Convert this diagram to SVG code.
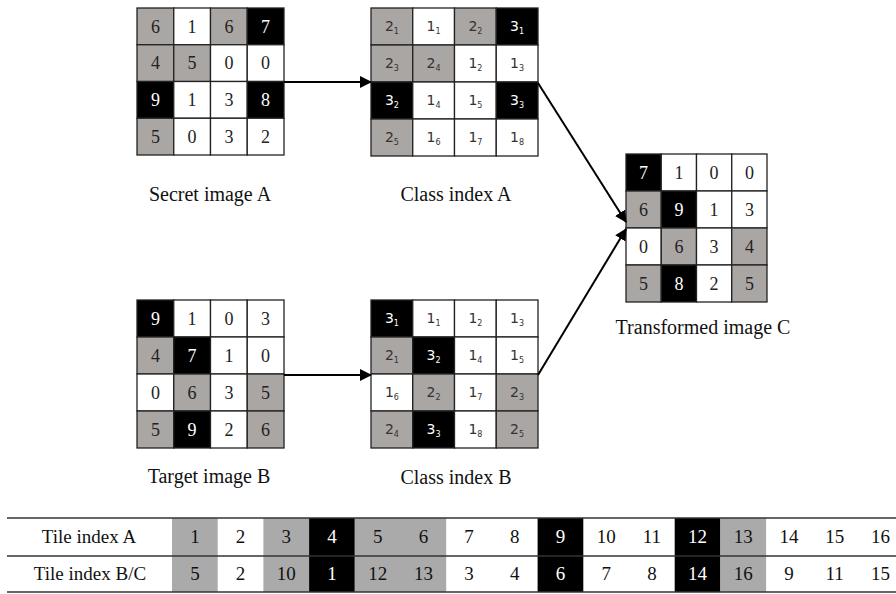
<svg xmlns="http://www.w3.org/2000/svg" width="896" height="594" viewBox="0 0 896 594">
<defs>
<marker id="ah" viewBox="0 0 12 12" refX="11" refY="6" markerWidth="12" markerHeight="12" markerUnits="userSpaceOnUse" orient="auto">
<path d="M0,0 L12,6 L0,12 Z" fill="#000"/>
</marker>
</defs>
<style>
rect.w{fill:#fff;stroke:#222;stroke-width:1.3}
rect.g{fill:#aaa6a4;stroke:#222;stroke-width:1.3}
rect.b{fill:#000;stroke:#222;stroke-width:1.3}
.n{font-family:"Liberation Serif","Times New Roman",serif;font-size:18px;text-anchor:middle;fill:#222}
.nw{font-family:"Liberation Serif","Times New Roman",serif;font-size:18px;text-anchor:middle;fill:#fff}
.c{font-family:"DejaVu Sans","Liberation Sans",sans-serif;font-size:14px;text-anchor:middle;fill:#333}
.cw{font-family:"DejaVu Sans","Liberation Sans",sans-serif;font-size:14px;text-anchor:middle;fill:#fff}
.s{font-size:8px}
.lbl{font-family:"Liberation Serif","Times New Roman",serif;font-size:20px;text-anchor:middle;fill:#111}
.tl{font-family:"Liberation Serif","Times New Roman",serif;font-size:19px;text-anchor:middle;fill:#111}
.tw{font-family:"Liberation Serif","Times New Roman",serif;font-size:19px;text-anchor:middle;fill:#fff}
.tg{fill:#aaaaaa}
.tb{fill:#000}
.conn line{stroke:#000;stroke-width:2;marker-end:url(#ah)}
.rule{stroke:#333;stroke-width:1.5}
</style>

<g id="secretA" transform="translate(137,8)">
<rect class="g" x="0" y="0" width="36.75" height="36.75"/><rect class="w" x="36.75" y="0" width="36.75" height="36.75"/><rect class="g" x="73.5" y="0" width="36.75" height="36.75"/><rect class="b" x="110.25" y="0" width="36.75" height="36.75"/>
<rect class="g" x="0" y="36.75" width="36.75" height="36.75"/><rect class="g" x="36.75" y="36.75" width="36.75" height="36.75"/><rect class="w" x="73.5" y="36.75" width="36.75" height="36.75"/><rect class="w" x="110.25" y="36.75" width="36.75" height="36.75"/>
<rect class="b" x="0" y="73.5" width="36.75" height="36.75"/><rect class="w" x="36.75" y="73.5" width="36.75" height="36.75"/><rect class="w" x="73.5" y="73.5" width="36.75" height="36.75"/><rect class="b" x="110.25" y="73.5" width="36.75" height="36.75"/>
<rect class="g" x="0" y="110.25" width="36.75" height="36.75"/><rect class="w" x="36.75" y="110.25" width="36.75" height="36.75"/><rect class="w" x="73.5" y="110.25" width="36.75" height="36.75"/><rect class="w" x="110.25" y="110.25" width="36.75" height="36.75"/>
<text class="n" x="18.4" y="24.5">6</text><text class="n" x="55.1" y="24.5">1</text><text class="n" x="91.9" y="24.5">6</text><text class="nw" x="128.6" y="24.5">7</text>
<text class="n" x="18.4" y="61.3">4</text><text class="n" x="55.1" y="61.3">5</text><text class="n" x="91.9" y="61.3">0</text><text class="n" x="128.6" y="61.3">0</text>
<text class="nw" x="18.4" y="98">9</text><text class="n" x="55.1" y="98">1</text><text class="n" x="91.9" y="98">3</text><text class="nw" x="128.6" y="98">8</text>
<text class="n" x="18.4" y="134.8">5</text><text class="n" x="55.1" y="134.8">0</text><text class="n" x="91.9" y="134.8">3</text><text class="n" x="128.6" y="134.8">2</text>
<text class="lbl" x="73" y="193">Secret image A</text>
</g>

<g id="classA" transform="translate(371,8)">
<rect class="g" x="0" y="0" width="41.75" height="37"/><rect class="w" x="41.75" y="0" width="41.75" height="37"/><rect class="g" x="83.5" y="0" width="41.75" height="37"/><rect class="b" x="125.25" y="0" width="41.75" height="37"/>
<rect class="g" x="0" y="37" width="41.75" height="37"/><rect class="g" x="41.75" y="37" width="41.75" height="37"/><rect class="w" x="83.5" y="37" width="41.75" height="37"/><rect class="w" x="125.25" y="37" width="41.75" height="37"/>
<rect class="b" x="0" y="74" width="41.75" height="37"/><rect class="w" x="41.75" y="74" width="41.75" height="37"/><rect class="w" x="83.5" y="74" width="41.75" height="37"/><rect class="b" x="125.25" y="74" width="41.75" height="37"/>
<rect class="g" x="0" y="111" width="41.75" height="37"/><rect class="w" x="41.75" y="111" width="41.75" height="37"/><rect class="w" x="83.5" y="111" width="41.75" height="37"/><rect class="w" x="125.25" y="111" width="41.75" height="37"/>
<text class="c" x="20.9" y="23">2<tspan class="s" dy="3">1</tspan></text><text class="c" x="62.6" y="23">1<tspan class="s" dy="3">1</tspan></text><text class="c" x="104.4" y="23">2<tspan class="s" dy="3">2</tspan></text><text class="cw" x="146.1" y="23">3<tspan class="s" dy="3">1</tspan></text>
<text class="c" x="20.9" y="60">2<tspan class="s" dy="3">3</tspan></text><text class="c" x="62.6" y="60">2<tspan class="s" dy="3">4</tspan></text><text class="c" x="104.4" y="60">1<tspan class="s" dy="3">2</tspan></text><text class="c" x="146.1" y="60">1<tspan class="s" dy="3">3</tspan></text>
<text class="cw" x="20.9" y="97">3<tspan class="s" dy="3">2</tspan></text><text class="c" x="62.6" y="97">1<tspan class="s" dy="3">4</tspan></text><text class="c" x="104.4" y="97">1<tspan class="s" dy="3">5</tspan></text><text class="cw" x="146.1" y="97">3<tspan class="s" dy="3">3</tspan></text>
<text class="c" x="20.9" y="134">2<tspan class="s" dy="3">5</tspan></text><text class="c" x="62.6" y="134">1<tspan class="s" dy="3">6</tspan></text><text class="c" x="104.4" y="134">1<tspan class="s" dy="3">7</tspan></text><text class="c" x="146.1" y="134">1<tspan class="s" dy="3">8</tspan></text>
<text class="lbl" x="85" y="193">Class index A</text>
</g>

<g id="targetB" transform="translate(137,300)">
<rect class="b" x="0" y="0" width="36.75" height="37"/><rect class="w" x="36.75" y="0" width="36.75" height="37"/><rect class="w" x="73.5" y="0" width="36.75" height="37"/><rect class="w" x="110.25" y="0" width="36.75" height="37"/>
<rect class="g" x="0" y="37" width="36.75" height="37"/><rect class="b" x="36.75" y="37" width="36.75" height="37"/><rect class="w" x="73.5" y="37" width="36.75" height="37"/><rect class="w" x="110.25" y="37" width="36.75" height="37"/>
<rect class="w" x="0" y="74" width="36.75" height="37"/><rect class="g" x="36.75" y="74" width="36.75" height="37"/><rect class="w" x="73.5" y="74" width="36.75" height="37"/><rect class="g" x="110.25" y="74" width="36.75" height="37"/>
<rect class="g" x="0" y="111" width="36.75" height="37"/><rect class="b" x="36.75" y="111" width="36.75" height="37"/><rect class="w" x="73.5" y="111" width="36.75" height="37"/><rect class="g" x="110.25" y="111" width="36.75" height="37"/>
<text class="nw" x="18.4" y="24.5">9</text><text class="n" x="55.1" y="24.5">1</text><text class="n" x="91.9" y="24.5">0</text><text class="n" x="128.6" y="24.5">3</text>
<text class="n" x="18.4" y="61.5">4</text><text class="nw" x="55.1" y="61.5">7</text><text class="n" x="91.9" y="61.5">1</text><text class="n" x="128.6" y="61.5">0</text>
<text class="n" x="18.4" y="98.5">0</text><text class="n" x="55.1" y="98.5">6</text><text class="n" x="91.9" y="98.5">3</text><text class="n" x="128.6" y="98.5">5</text>
<text class="n" x="18.4" y="135.5">5</text><text class="nw" x="55.1" y="135.5">9</text><text class="n" x="91.9" y="135.5">2</text><text class="n" x="128.6" y="135.5">6</text>
<text class="lbl" x="72" y="183">Target image B</text>
</g>

<g id="classB" transform="translate(371,300)">
<rect class="b" x="0" y="0" width="41.75" height="37"/><rect class="w" x="41.75" y="0" width="41.75" height="37"/><rect class="w" x="83.5" y="0" width="41.75" height="37"/><rect class="w" x="125.25" y="0" width="41.75" height="37"/>
<rect class="g" x="0" y="37" width="41.75" height="37"/><rect class="b" x="41.75" y="37" width="41.75" height="37"/><rect class="w" x="83.5" y="37" width="41.75" height="37"/><rect class="w" x="125.25" y="37" width="41.75" height="37"/>
<rect class="w" x="0" y="74" width="41.75" height="37"/><rect class="g" x="41.75" y="74" width="41.75" height="37"/><rect class="w" x="83.5" y="74" width="41.75" height="37"/><rect class="g" x="125.25" y="74" width="41.75" height="37"/>
<rect class="g" x="0" y="111" width="41.75" height="37"/><rect class="b" x="41.75" y="111" width="41.75" height="37"/><rect class="w" x="83.5" y="111" width="41.75" height="37"/><rect class="g" x="125.25" y="111" width="41.75" height="37"/>
<text class="cw" x="20.9" y="23">3<tspan class="s" dy="3">1</tspan></text><text class="c" x="62.6" y="23">1<tspan class="s" dy="3">1</tspan></text><text class="c" x="104.4" y="23">1<tspan class="s" dy="3">2</tspan></text><text class="c" x="146.1" y="23">1<tspan class="s" dy="3">3</tspan></text>
<text class="c" x="20.9" y="60">2<tspan class="s" dy="3">1</tspan></text><text class="cw" x="62.6" y="60">3<tspan class="s" dy="3">2</tspan></text><text class="c" x="104.4" y="60">1<tspan class="s" dy="3">4</tspan></text><text class="c" x="146.1" y="60">1<tspan class="s" dy="3">5</tspan></text>
<text class="c" x="20.9" y="97">1<tspan class="s" dy="3">6</tspan></text><text class="c" x="62.6" y="97">2<tspan class="s" dy="3">2</tspan></text><text class="c" x="104.4" y="97">1<tspan class="s" dy="3">7</tspan></text><text class="c" x="146.1" y="97">2<tspan class="s" dy="3">3</tspan></text>
<text class="c" x="20.9" y="134">2<tspan class="s" dy="3">4</tspan></text><text class="cw" x="62.6" y="134">3<tspan class="s" dy="3">3</tspan></text><text class="c" x="104.4" y="134">1<tspan class="s" dy="3">8</tspan></text><text class="c" x="146.1" y="134">2<tspan class="s" dy="3">5</tspan></text>
<text class="lbl" x="85" y="184">Class index B</text>
</g>

<g id="transformedC" transform="translate(626,154)">
<rect class="b" x="0" y="0" width="35.25" height="37"/><rect class="w" x="35.25" y="0" width="35.25" height="37"/><rect class="w" x="70.5" y="0" width="35.25" height="37"/><rect class="w" x="105.75" y="0" width="35.25" height="37"/>
<rect class="g" x="0" y="37" width="35.25" height="37"/><rect class="b" x="35.25" y="37" width="35.25" height="37"/><rect class="w" x="70.5" y="37" width="35.25" height="37"/><rect class="w" x="105.75" y="37" width="35.25" height="37"/>
<rect class="w" x="0" y="74" width="35.25" height="37"/><rect class="g" x="35.25" y="74" width="35.25" height="37"/><rect class="w" x="70.5" y="74" width="35.25" height="37"/><rect class="g" x="105.75" y="74" width="35.25" height="37"/>
<rect class="g" x="0" y="111" width="35.25" height="37"/><rect class="b" x="35.25" y="111" width="35.25" height="37"/><rect class="w" x="70.5" y="111" width="35.25" height="37"/><rect class="g" x="105.75" y="111" width="35.25" height="37"/>
<text class="nw" x="17.6" y="24.5">7</text><text class="n" x="52.9" y="24.5">1</text><text class="n" x="88.1" y="24.5">0</text><text class="n" x="123.4" y="24.5">0</text>
<text class="n" x="17.6" y="61.5">6</text><text class="nw" x="52.9" y="61.5">9</text><text class="n" x="88.1" y="61.5">1</text><text class="n" x="123.4" y="61.5">3</text>
<text class="n" x="17.6" y="98.5">0</text><text class="n" x="52.9" y="98.5">6</text><text class="n" x="88.1" y="98.5">3</text><text class="n" x="123.4" y="98.5">4</text>
<text class="n" x="17.6" y="135.5">5</text><text class="nw" x="52.9" y="135.5">8</text><text class="n" x="88.1" y="135.5">2</text><text class="n" x="123.4" y="135.5">5</text>
<text class="lbl" x="77" y="180">Transformed image C</text>
</g>

<g id="connectors" class="conn">
<line x1="284" y1="82" x2="371" y2="82"/>
<line x1="284" y1="375" x2="371" y2="375"/>
<line x1="538" y1="83" x2="626" y2="222"/>
<line x1="538" y1="375" x2="626" y2="229"/>
</g>

<g id="table">
<rect class="tg" x="172" y="518" width="45.7" height="74"/>
<rect class="tg" x="263.4" y="518" width="45.7" height="74"/>
<rect class="tb" x="309.1" y="518" width="45.7" height="74"/>
<rect class="tg" x="354.8" y="518" width="91.4" height="74"/>
<rect class="tb" x="537.6" y="518" width="45.7" height="74"/>
<rect class="tb" x="674.7" y="518" width="45.7" height="74"/>
<rect class="tg" x="720.4" y="518" width="45.7" height="74"/>
<line class="rule" x1="7" y1="518" x2="896" y2="518"/>
<line class="rule" x1="7" y1="556" x2="896" y2="556"/>
<line class="rule" x1="7" y1="592" x2="896" y2="592"/>
<text class="tl" x="89" y="543">Tile index A</text>
<text class="tl" x="90" y="580">Tile index B/C</text>
<text class="tl" x="194.9" y="543">1</text><text class="tl" x="240.6" y="543">2</text><text class="tl" x="286.3" y="543">3</text><text class="tw" x="332" y="543">4</text><text class="tl" x="377.7" y="543">5</text><text class="tl" x="423.4" y="543">6</text><text class="tl" x="469.1" y="543">7</text><text class="tl" x="514.8" y="543">8</text><text class="tw" x="560.5" y="543">9</text><text class="tl" x="606.2" y="543">10</text><text class="tl" x="651.9" y="543">11</text><text class="tw" x="697.6" y="543">12</text><text class="tl" x="743.3" y="543">13</text><text class="tl" x="789" y="543">14</text><text class="tl" x="834.7" y="543">15</text><text class="tl" x="880.4" y="543">16</text>
<text class="tl" x="194.9" y="580">5</text><text class="tl" x="240.6" y="580">2</text><text class="tl" x="286.3" y="580">10</text><text class="tw" x="332" y="580">1</text><text class="tl" x="377.7" y="580">12</text><text class="tl" x="423.4" y="580">13</text><text class="tl" x="469.1" y="580">3</text><text class="tl" x="514.8" y="580">4</text><text class="tw" x="560.5" y="580">6</text><text class="tl" x="606.2" y="580">7</text><text class="tl" x="651.9" y="580">8</text><text class="tw" x="697.6" y="580">14</text><text class="tl" x="743.3" y="580">16</text><text class="tl" x="789" y="580">9</text><text class="tl" x="834.7" y="580">11</text><text class="tl" x="880.4" y="580">15</text>
</g>
</svg>
